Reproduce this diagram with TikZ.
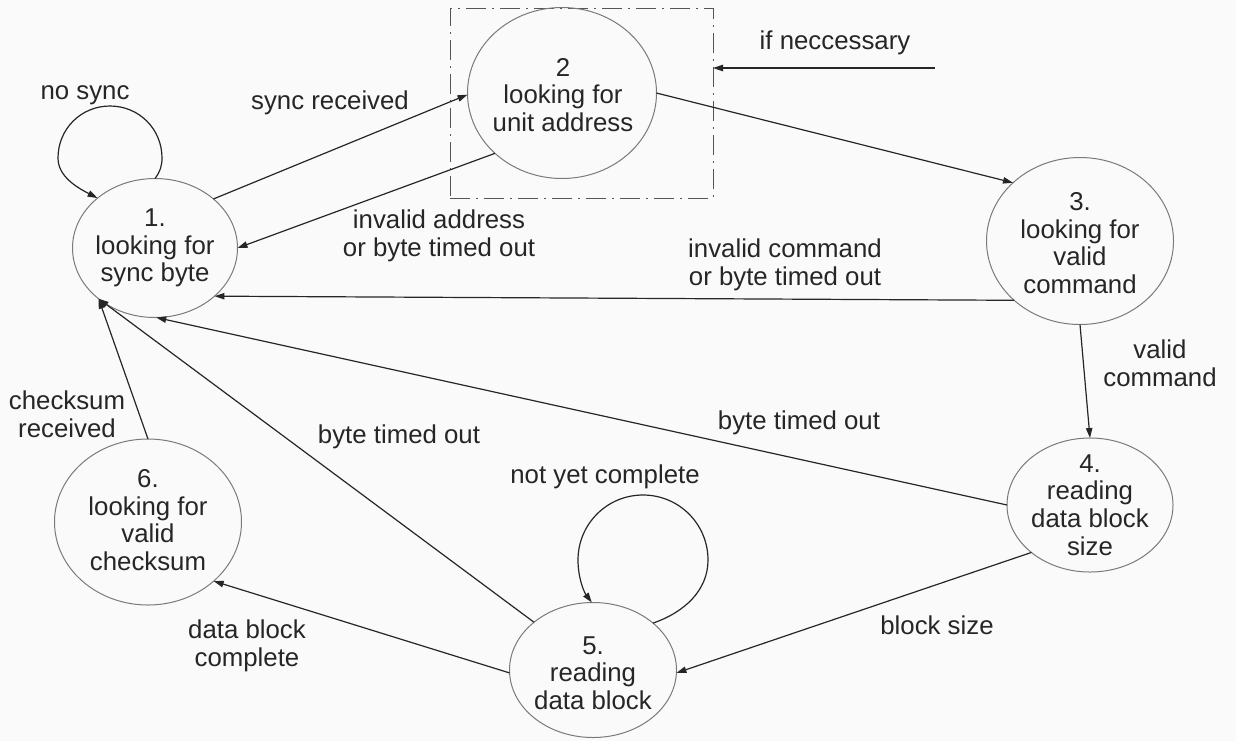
\documentclass[tikz,border=0pt]{standalone}
\usepackage{fontspec}
\setmainfont{Liberation Sans}
\usetikzlibrary{shapes.geometric,arrows.meta}
\definecolor{inkc}{HTML}{262626}
\definecolor{rimc}{HTML}{7A7A7A}
\definecolor{paper}{HTML}{FAFAFA}

\begin{document}
\begin{tikzpicture}[x=0.5pt,y=-0.5pt,
  state/.style={ellipse, draw=rimc, line width=0.5pt, inner sep=0pt, outer sep=0pt},
  txt/.style={inner sep=0pt, align=center, text=inkc, font=\fontsize{12.9}{13.8}\selectfont},
  trans/.style={draw=inkc, line width=0.6pt, -{Triangle[length=5pt,width=3.2pt]}},
  groupbox/.style={draw=rimc!70!black, line width=0.5pt,
    dash pattern=on 10pt off 3pt on 1pt off 3pt, inner sep=0pt, outer sep=0pt}
]
\fill[paper] (0,0) rectangle (1236,741);
\useasboundingbox (0,0) rectangle (1236,741);

% optional unit-address stage
\node[groupbox, minimum width=131.5pt, minimum height=95pt] (grp) at (581.5,103) {};

% states
\node[state, minimum width=82.5pt, minimum height=69.5pt] (n1) at (155,248) {};
\node[state, minimum width=94.5pt, minimum height=85.5pt] (n2) at (562,93) {};
\node[state, minimum width=93.5pt, minimum height=83.5pt] (n3) at (1080,241) {};
\node[state, minimum width=83pt, minimum height=67pt] (n4) at (1090,505) {};
\node[state, minimum width=83.5pt, minimum height=67.5pt] (n5) at (593,670) {};
\node[state, minimum width=93.5pt, minimum height=83pt] (n6) at (148,522) {};

\node[txt] (t1) at (155,248) {1.\\looking for\\sync byte};
\node[txt] (t2) at (563,95) {2\\looking for\\unit address};
\node[txt] (t3) at (1080,243) {3.\\looking for\\valid\\command};
\node[txt] (t4) at (1090,505) {4.\\reading\\data block\\size};
\node[txt] (t5) at (593,673) {5.\\reading\\data block};
\node[txt] (t6) at (148,520) {6.\\looking for\\valid\\checksum};

% self loops
\draw[trans] (n1.90) .. controls (160,172) and (162,166) .. (162,158)
  .. controls (162,129) and (139,106) .. (110,106)
  .. controls (81,106) and (58,129) .. (58,158)
  .. controls (58,176) and (76,187) .. (n1.139);
\draw[trans] (n5.38.5) .. controls (685,612) and (708,590) .. (708,560)
  .. controls (708,524) and (679,495) .. (643,495)
  .. controls (607,495) and (578,524) .. (578,560)
  .. controls (578,578) and (584,592) .. (n5.91);

% transitions
\draw[trans] (n1.40) -- (n2.181);
\draw[trans] (n2.222) -- (n1.0);
\draw[trans] (n2.0) -- (n3.139);
\draw[trans] (n3.222) -- (n1.321);
\draw[trans] (n3.270) -- (n4.90);
\draw[trans] (n4.180) -- (n1.271);
\draw[trans] (n4.219) -- (n5.358);
\draw[trans] (n5.141) -- (n1.222);
\draw[trans] (n5.182) -- (n6.318);
\draw[trans] (n6.90) -- (n1.222);

\coordinate (ifsrc) at (935,68);
\draw[trans] (ifsrc) -- (grp.east |- ifsrc);

% labels
\node[txt] (l1) at (85,95) {no sync};
\node[txt] (l2) at (330,103) {sync received};
\node[txt] (l3) at (439,236) {invalid address\\or byte timed out};
\node[txt] (l4) at (785,265) {invalid command\\or byte timed out};
\node[txt] (l5) at (1160,363) {valid\\command};
\node[txt] (l6) at (799,423) {byte timed out};
\node[txt] (l7) at (399,437) {byte timed out};
\node[txt] (l8) at (67,414) {checksum\\received};
\node[txt] (l9) at (605,477) {not yet complete};
\node[txt] (l10) at (937,625) {block size};
\node[txt] (l11) at (247,646) {data block\\complete};
\node[txt] (l12) at (835,43) {if neccessary};
\end{tikzpicture}
\end{document}
